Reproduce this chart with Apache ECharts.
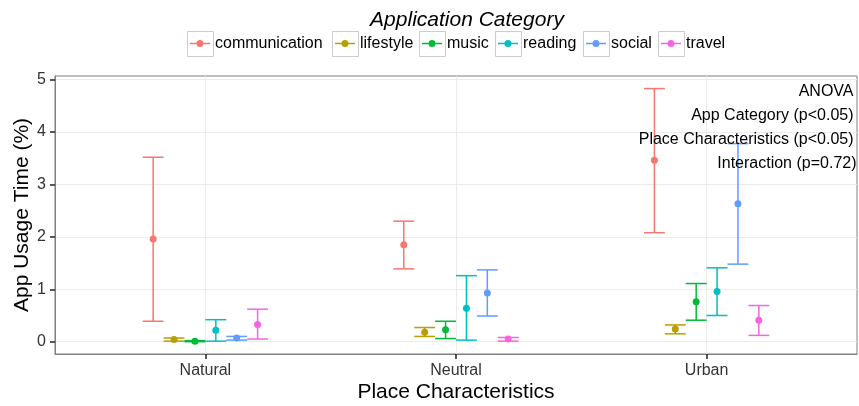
<!DOCTYPE html>
<html>
<head>
<meta charset="utf-8">
<script src="https://cdn.jsdelivr.net/npm/echarts@6/dist/echarts.min.js"></script>
<style>html,body{margin:0;padding:0;background:#fff}#chart{width:859px;height:406px}</style>
</head>
<body>
<div id="chart"></div>
<script>
// ---- data ----
const places = ['Natural', 'Neutral', 'Urban'];
const placePositions = [1, 2, 3];
const apps = ['communication', 'lifestyle', 'music', 'reading', 'social', 'travel'];
const appColors = ['#F8766D', '#B79F00', '#00BA38', '#00BFC4', '#619CFF', '#F564E3'];
// mean usage per app (rows) and place (cols)
const means = [
  [1.96, 1.85, 3.46],
  [0.04, 0.18, 0.24],
  [0.01, 0.23, 0.76],
  [0.22, 0.64, 0.96],
  [0.07, 0.93, 2.63],
  [0.33, 0.05, 0.41]
];
const lowers = [
  [0.39, 1.39, 2.08],
  [0.01, 0.10, 0.15],
  [0.00, 0.06, 0.41],
  [0.01, 0.03, 0.50],
  [0.03, 0.49, 1.48],
  [0.05, 0.01, 0.12]
];
const uppers = [
  [3.52, 2.30, 4.83],
  [0.07, 0.27, 0.32],
  [0.02, 0.39, 1.11],
  [0.42, 1.26, 1.41],
  [0.10, 1.37, 3.78],
  [0.62, 0.08, 0.69]
];
const yTicks = [0, 1, 2, 3, 4, 5];
const anovaLines = ['ANOVA', 'App Category (p<0.05)', 'Place Characteristics (p<0.05)', 'Interaction (p=0.72)'];

// ---- layout / style ----
const dodgeWidth = 0.5;
const slot = dodgeWidth / apps.length;
const offsets = apps.map((_, i) => -dodgeWidth / 2 + slot * (i + 0.5));
const FONT = 'Liberation Sans, Arial, Helvetica, sans-serif';
const legendBoxLeft = [187, 332, 419, 495, 583, 658];
const iconPath = 'path://M0,2.75L20,2.75L20,4.25L0,4.25Z M13.5,3.5A3.5,3.5,0,1,1,6.5,3.5A3.5,3.5,0,1,1,13.5,3.5Z';

const chart = echarts.init(document.getElementById('chart'), null, { renderer: 'canvas' });

const series = apps.map((app, si) => ({
  name: app,
  type: 'custom',
  color: appColors[si],
  itemStyle: { color: appColors[si] },
  clip: false,
  data: placePositions.map((p, pi) => [p, means[si][pi], lowers[si][pi], uppers[si][pi]]),
  encode: { x: 0, y: [1, 2, 3] },
  renderItem: function (params, api) {
    const x = api.value(0) + offsets[params.seriesIndex];
    const top = api.coord([x, api.value(3)]);
    const bot = api.coord([x, api.value(2)]);
    const mid = api.coord([x, api.value(1)]);
    const l = api.coord([x - slot / 2, 0])[0];
    const r = api.coord([x + slot / 2, 0])[0];
    const c = appColors[params.seriesIndex];
    const ls = { stroke: c, lineWidth: 1.5 };
    return {
      type: 'group',
      children: [
        { type: 'line', shape: { x1: top[0], y1: top[1], x2: bot[0], y2: bot[1] }, style: ls },
        { type: 'line', shape: { x1: l, y1: top[1], x2: r, y2: top[1] }, style: ls },
        { type: 'line', shape: { x1: l, y1: bot[1], x2: r, y2: bot[1] }, style: ls },
        { type: 'circle', shape: { cx: mid[0], cy: mid[1], r: 3.5 }, style: { fill: c } }
      ]
    };
  }
}));

const legends = apps.map((app, i) => ({
  data: [app],
  left: legendBoxLeft[i] + 3,
  top: 35.5,
  padding: 0,
  orient: 'horizontal',
  icon: iconPath,
  itemWidth: 20,
  itemHeight: 7,
  selectedMode: false,
  textStyle: { fontFamily: FONT, fontSize: 16, color: '#000' }
}));

const graphics = legendBoxLeft.map(x => ({
  type: 'rect', left: x, top: 31, z: -1,
  shape: { width: 26, height: 25 },
  style: { fill: '#fff', stroke: '#CCCCCC', lineWidth: 1 }
}));
const anovaY = [91.7, 115.7, 139.3, 163.3];
const anovaX = [853.5, 853.5, 853.5, 856.5];
anovaLines.forEach((t, i) => {
  graphics.push({
    type: 'text', x: anovaX[i], y: anovaY[i], z: 100,
    style: { text: t, fill: '#000', font: '16px ' + FONT, textAlign: 'right', textVerticalAlign: 'middle' }
  });
});

chart.setOption({
  animation: false,
  backgroundColor: '#fff',
  title: {
    text: 'Application Category',
    left: 462, textAlign: 'center', top: 5,
    textStyle: { fontFamily: FONT, fontSize: 21, fontStyle: 'italic', fontWeight: 'normal', color: '#000' }
  },
  legend: legends,
  grid: { left: 55, top: 76, width: 802, height: 278, show: true, borderColor: '#7f7f7f', borderWidth: 1,
    backgroundColor: '#fff', containLabel: false, outerBoundsMode: 'none' },
  xAxis: {
    type: 'value', min: 0.4, max: 3.6,
    name: 'Place Characteristics', nameLocation: 'middle', nameGap: 28, nameMoveOverlap: false,
    nameTextStyle: { fontFamily: FONT, fontSize: 21, color: '#000' },
    axisLine: { show: true, onZero: false, lineStyle: { color: '#7f7f7f', width: 1 } },
    axisTick: { show: true, inside: false, length: 5, lineStyle: { color: '#222', width: 1.5 }, customValues: placePositions },
    axisLabel: { customValues: placePositions, fontFamily: FONT, fontSize: 16, color: '#333', margin: 9,
      formatter: v => places[Math.round(v) - 1] },
    splitLine: { show: true, lineStyle: { color: '#EBEBEB', width: 1 } }
  },
  yAxis: {
    type: 'value', min: -0.235, max: 5.07,
    name: 'App Usage Time (%)', nameLocation: 'middle', nameGap: 22, nameRotate: 90, nameMoveOverlap: false,
    nameTextStyle: { fontFamily: FONT, fontSize: 21, color: '#000' },
    axisLine: { show: true, onZero: false, lineStyle: { color: '#7f7f7f', width: 1 } },
    axisTick: { show: true, inside: false, length: 5, lineStyle: { color: '#222', width: 1.5 }, customValues: yTicks },
    axisLabel: { customValues: yTicks, fontFamily: FONT, fontSize: 16, color: '#333', margin: 9 },
    splitLine: { show: true, lineStyle: { color: '#EBEBEB', width: 1 } }
  },
  graphic: graphics,
  series: series
});
</script>
</body>
</html>
